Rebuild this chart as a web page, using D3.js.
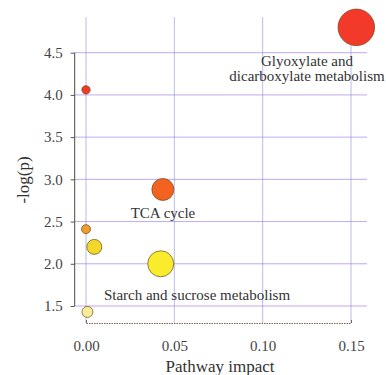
<!DOCTYPE html>
<html>
<head>
<meta charset="utf-8">
<script src="https://cdn.jsdelivr.net/npm/d3@7"></script>
<style>
  body { margin: 0; background: #fff; }
</style>
</head>
<body>
<div id="chart_box"></div>
<script>
// pathway impact (x), -log(p) (y), bubble size
var impact = [0.153, 0.000, 0.0435, 0.000, 0.0047, 0.0423, 0.0008];
var logp   = [4.80, 4.06, 2.88, 2.41, 2.20, 2.00, 1.43];
var bsize  = [18.3, 4.2, 11, 4.5, 7.5, 13, 5.5];
var labels = ["Glyoxylate and\ndicarboxylate metabolism", "", "TCA cycle", "", "", "", "Starch and sucrose metabolism"];
var xTicks = [0.00, 0.05, 0.10, 0.15];
var yTicks = [1.5, 2.0, 2.5, 3.0, 3.5, 4.0, 4.5];

var width = 386, height = 375;
var serif = "'Liberation Serif', 'Times New Roman', serif";

var svg = d3.select("#chart_box").append("svg")
    .attr("width", width)
    .attr("height", height)
    .attr("font-family", serif);

var x = d3.scaleLinear().domain([0, 0.15]).range([86, 351]);
var y = d3.scaleLinear().domain([1.5, 4.5]).range([306, 52.7]);
var r = d3.scaleLinear().domain([0, 18.3]).range([0, 18.3]);
var col = d3.scaleLinear()
    .domain([1.43, 2.0, 2.2, 2.41, 2.88, 4.0, 4.8])
    .range(["#f9ec98", "#f8ec2c", "#f3d82a", "#f29a2c", "#f3621f", "#f03a22", "#f2392a"]);

var g = svg.append("g");

// grid lines
g.selectAll(".vgrid").data(xTicks).enter().append("line")
    .attr("x1", d => x(d)).attr("x2", d => x(d))
    .attr("y1", 17).attr("y2", 323)
    .style("stroke", "#7a7ad8").style("stroke-width", 0.7).style("stroke-opacity", 0.75);

g.selectAll(".hgrid").data(yTicks).enter().append("line")
    .attr("x1", 74.7).attr("x2", 367)
    .attr("y1", d => y(d)).attr("y2", d => y(d))
    .style("stroke", "#a078e2").style("stroke-width", 0.8).style("stroke-opacity", 0.8);

// y axis
var yAxis = d3.axisLeft(y).tickValues(yTicks).tickFormat(d3.format(".1f")).tickSize(4).tickPadding(8);
var ya = g.append("g").attr("transform", "translate(74.7,0)").call(yAxis);
ya.attr("font-family", serif);
ya.select(".domain").attr("d", "M0," + y(4.5) + "V" + y(1.5)).style("stroke", "#4a4a3a").style("stroke-width", 1);
ya.selectAll(".tick line").style("stroke", "#555");
ya.selectAll("text").style("font-family", serif).style("font-size", "15px").style("fill", "#444");

// x axis
var xAxis = d3.axisBottom(x).tickValues(xTicks).tickFormat(d3.format(".2f")).tickSize(0).tickPadding(17);
var xa = g.append("g").attr("transform", "translate(0,323)").call(xAxis);
xa.attr("font-family", serif);
xa.select(".domain").style("stroke", "#8a5a4a").style("stroke-width", 1).style("stroke-dasharray", "1.5,1");
xa.selectAll("text").style("font-family", serif).style("font-size", "15px").style("fill", "#444");
xa.selectAll(".tick").filter(d => d === 0 || d === 0.15).append("line")
    .attr("y1", 0).attr("y2", -3).style("stroke", "#666");

// axis titles
svg.append("text").text("Pathway impact")
    .attr("x", 220).attr("y", 372)
    .attr("text-anchor", "middle")
    .style("font-family", serif).style("font-size", "17px").style("fill", "#333");
svg.append("text").text("-log(p)")
    .attr("transform", "translate(29,180) rotate(-90)")
    .attr("text-anchor", "middle")
    .style("font-family", serif).style("font-size", "17px").style("fill", "#333");

// bubbles
var pts = impact.map((d, i) => ({x: d, y: logp[i], s: bsize[i], label: labels[i]}));
g.selectAll(".bubble").data(pts).enter().append("circle")
    .attr("cx", d => x(d.x)).attr("cy", d => y(d.y))
    .attr("r", d => r(d.s))
    .style("fill", d => col(d.y))
    .style("stroke", "#6a4a20").style("stroke-width", 0.7);

// labels
var lab = g.selectAll(".lab").data(pts.filter(d => d.label)).enter().append("text")
    .attr("text-anchor", "middle")
    .style("font-family", serif).style("font-size", "15px").style("fill", "#333");
lab.each(function(d) {
  var t = d3.select(this);
  var lines = d.label.split("\n");
  var lx, ly;
  if (d.label.indexOf("Glyoxylate") === 0) { lx = 307; ly = 66; }
  else if (d.label === "TCA cycle") { lx = 163; ly = 218; }
  else { lx = 197; ly = 300; }
  lines.forEach(function(l, k) {
    t.append("tspan").attr("x", lx).attr("y", ly + k * 15).text(l);
  });
});
</script>
</body>
</html>
